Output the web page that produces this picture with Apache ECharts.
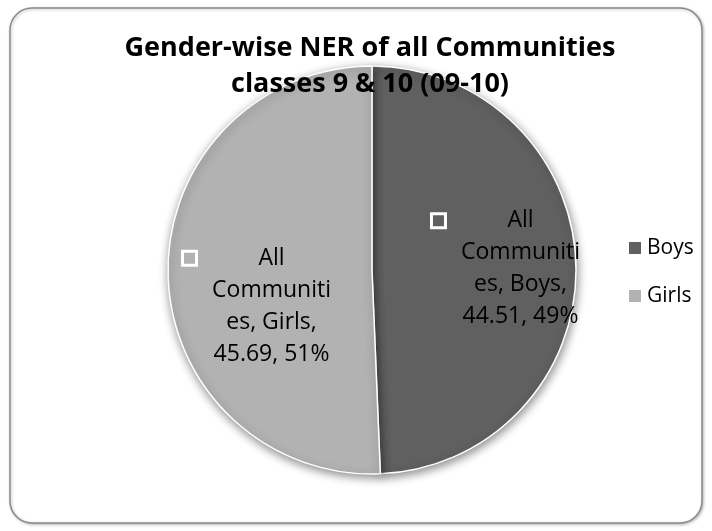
<!DOCTYPE html>
<html>
<head>
<meta charset="utf-8">
<script src="https://cdn.jsdelivr.net/npm/echarts@6/dist/echarts.min.js"></script>
<style>
html,body{margin:0;padding:0;background:#fff;}
#c{width:712px;height:531px;}
</style>
</head>
<body>
<div id="c"></div>
<script>
const titleLines = ['Gender-wise NER of all Communities', 'classes 9 & 10 (09-10)'];
const categories = ['Boys', 'Girls'];
const values = [44.51, 45.69];
const percents = ['49%', '51%'];
const seriesName = 'All Communities';
const colors = ['#606060', '#b2b2b2'];

const FONT = '"Open Sans", Lato, sans-serif';
const labelOffsets = [[30, 1], [-9, 34]];

const chart = echarts.init(document.getElementById('c'));
const data = categories.map((c, i) => ({
  name: c,
  value: values[i],
  itemStyle: { color: colors[i] },
  label: { offset: labelOffsets[i] }
}));

function splitLabel(name, value, pct) {
  // Excel wraps "All Communities, <name>, <value>, <pct>" inside the slice
  return ['All', 'Communiti', 'es, ' + name + ',', value.toFixed(2) + ', ' + pct];
}

chart.setOption({
  animation: false,
  backgroundColor: '#ffffff',
  graphic: [{
    type: 'rect',
    shape: { x: 10, y: 8, width: 692, height: 515, r: 22 },
    style: { fill: '#fff', stroke: '#8a8a8a', lineWidth: 1.5, shadowBlur: 3, shadowColor: 'rgba(0,0,0,0.25)', shadowOffsetX: 1, shadowOffsetY: 1 },
    z: -10
  }],
  title: {
    text: titleLines.join('\n'),
    left: 365,
    textAlign: 'center',
    top: 25,
    textStyle: { fontFamily: FONT, fontWeight: 'bold', fontSize: 27, lineHeight: 36, color: '#000' }
  },
  legend: {
    orient: 'vertical',
    left: 622,
    top: 232,
    itemWidth: 14,
    itemHeight: 14,
    itemGap: 26,
    icon: 'rect',
    data: categories,
    textStyle: { fontFamily: FONT, fontSize: 21, lineHeight: 22, color: '#000' }
  },
  series: [{
    type: 'pie',
    name: seriesName,
    center: [372, 270],
    radius: [0, 204],
    startAngle: 90,
    clockwise: true,
    data: data,
    itemStyle: { borderColor: '#fff', borderWidth: 1.5, shadowBlur: 10, shadowColor: 'rgba(0,0,0,0.45)', shadowOffsetX: 1, shadowOffsetY: 3 },
    emphasis: { disabled: true },
    labelLine: { show: false },
    label: {
      show: true,
      position: 'inside',
      formatter: function (p) {
        const lines = splitLabel(p.name, p.value, percents[p.dataIndex]);
        return lines.map((l, k) => (k === 0 ? '{sq|}{sp|}' : '{gap|}') + '{t|' + l + '}').join('\n');
      },
      rich: {
        sq: { width: 14, height: 14, borderColor: '#fff', borderWidth: 1.5, backgroundColor: 'transparent', align: 'left' },
        sp: { width: 13, height: 14, align: 'left' },
        gap: { width: 27, height: 14, align: 'left' },
        t: { width: 124, align: 'center', fontFamily: FONT, fontSize: 23, lineHeight: 32, color: '#000' }
      }
    }
  }]
});
</script>
</body>
</html>
